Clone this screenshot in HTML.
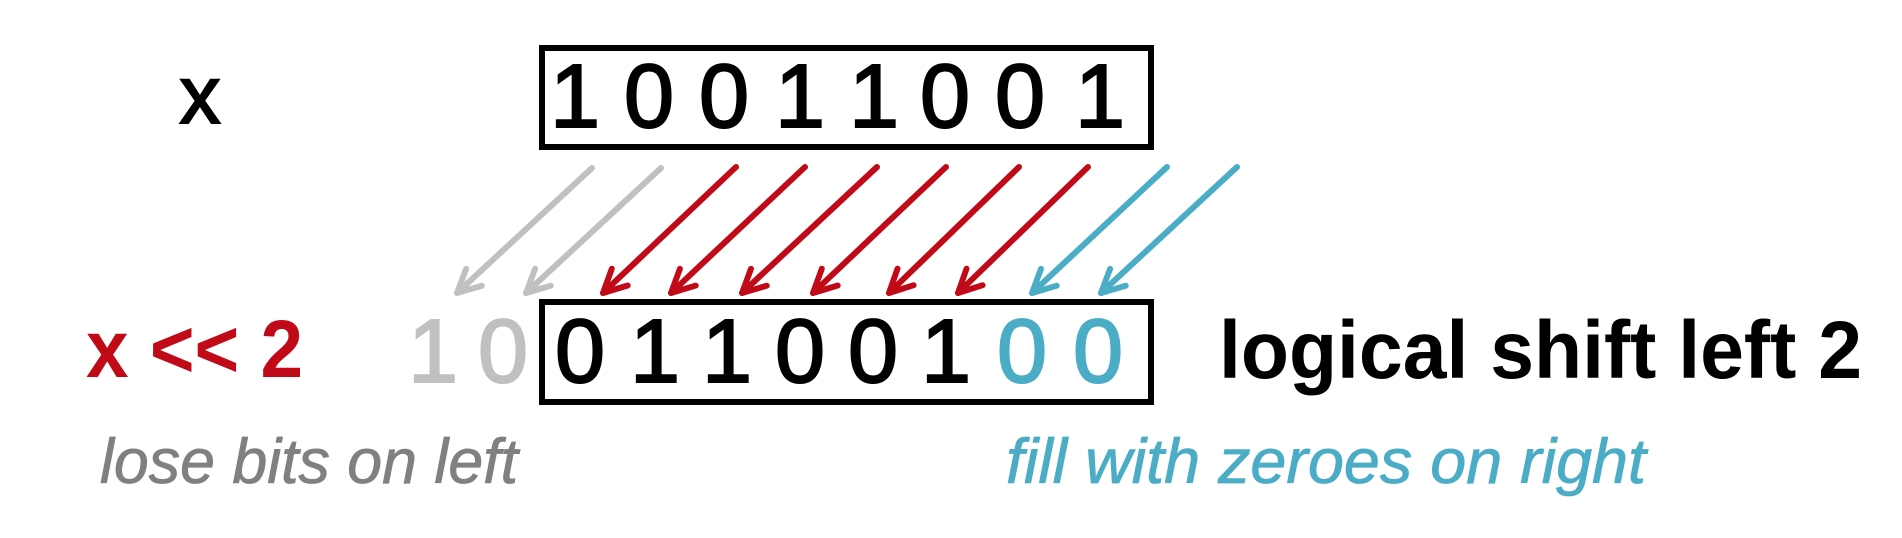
<!DOCTYPE html>
<html><head><meta charset="utf-8"><style>
html,body{margin:0;padding:0;background:#fff;}
svg{display:block;}
</style></head><body>
<svg width="1902" height="538" viewBox="0 0 1902 538" xmlns="http://www.w3.org/2000/svg" font-family="Liberation Sans, sans-serif">
<defs>
<marker id="ag" viewBox="0 0 10 10" refX="8.5" refY="5" markerWidth="5.5" markerHeight="5.5" orient="auto" markerUnits="strokeWidth"><path d="M1.5,1.5 L8.5,5 L1.5,8.5" fill="none" stroke="#C0C0C0" stroke-width="1.8" stroke-linecap="round" stroke-linejoin="round"/></marker>
<marker id="ar" viewBox="0 0 10 10" refX="8.5" refY="5" markerWidth="5.5" markerHeight="5.5" orient="auto" markerUnits="strokeWidth"><path d="M1.5,1.5 L8.5,5 L1.5,8.5" fill="none" stroke="#C00A17" stroke-width="1.8" stroke-linecap="round" stroke-linejoin="round"/></marker>
<marker id="ab" viewBox="0 0 10 10" refX="8.5" refY="5" markerWidth="5.5" markerHeight="5.5" orient="auto" markerUnits="strokeWidth"><path d="M1.5,1.5 L8.5,5 L1.5,8.5" fill="none" stroke="#4BACC6" stroke-width="1.8" stroke-linecap="round" stroke-linejoin="round"/></marker>
</defs>
<text x="200" y="123" font-size="82" text-anchor="middle" stroke="#000" stroke-width="2">x</text>
<rect x="542" y="48" width="609" height="99" fill="none" stroke="#000" stroke-width="6"/>
<g font-size="90" text-anchor="middle" fill="#000" stroke="#000" stroke-width="2">
<text x="575" y="127">1</text><text x="649" y="127">0</text><text x="724" y="127">0</text><text x="800" y="127">1</text>
<text x="874" y="127">1</text><text x="945" y="127">0</text><text x="1020" y="127">0</text><text x="1100" y="127">1</text>
</g>
<g stroke-width="6" fill="none" stroke-linecap="round">
<line x1="592" y1="168" x2="457" y2="293" stroke="#C0C0C0" marker-end="url(#ag)"/>
<line x1="661" y1="168" x2="526" y2="293" stroke="#C0C0C0" marker-end="url(#ag)"/>
<line x1="736" y1="167" x2="603" y2="293" stroke="#C00A17" marker-end="url(#ar)"/>
<line x1="805" y1="167" x2="671" y2="293" stroke="#C00A17" marker-end="url(#ar)"/>
<line x1="877" y1="167" x2="742" y2="293" stroke="#C00A17" marker-end="url(#ar)"/>
<line x1="946" y1="167" x2="813" y2="293" stroke="#C00A17" marker-end="url(#ar)"/>
<line x1="1019" y1="167" x2="889" y2="293" stroke="#C00A17" marker-end="url(#ar)"/>
<line x1="1088" y1="167" x2="958" y2="293" stroke="#C00A17" marker-end="url(#ar)"/>
<line x1="1167" y1="167" x2="1032" y2="293" stroke="#4BACC6" marker-end="url(#ab)"/>
<line x1="1237" y1="167" x2="1101" y2="293" stroke="#4BACC6" marker-end="url(#ab)"/>
</g>
<rect x="542" y="302" width="609" height="100" fill="none" stroke="#000" stroke-width="6"/>
<g font-size="90" text-anchor="middle" stroke-width="2">
<text x="433" y="382" fill="#C0C0C0" stroke="#C0C0C0">1</text><text x="503" y="382" fill="#C0C0C0" stroke="#C0C0C0">0</text>
<text x="580" y="382" stroke="#000">0</text><text x="655" y="382" stroke="#000">1</text><text x="727" y="382" stroke="#000">1</text><text x="800" y="382" stroke="#000">0</text>
<text x="873" y="382" stroke="#000">0</text><text x="946" y="382" stroke="#000">1</text>
<text x="1022" y="382" fill="#4BACC6" stroke="#4BACC6">0</text><text x="1098" y="382" fill="#4BACC6" stroke="#4BACC6">0</text>
</g>
<text x="86" y="377" font-size="82" font-weight="bold" fill="#C00A17" textLength="217" lengthAdjust="spacingAndGlyphs">x &lt;&lt; 2</text>
<text x="1219" y="378" font-size="82" font-weight="bold" fill="#000" textLength="643" lengthAdjust="spacingAndGlyphs">logical shift left 2</text>
<text x="100" y="483" font-size="63" font-style="italic" fill="#808080" stroke="#808080" stroke-width="0.8" textLength="418" lengthAdjust="spacingAndGlyphs">lose bits on left</text>
<text x="1006" y="483" font-size="63" font-style="italic" fill="#4BACC6" stroke="#4BACC6" stroke-width="0.8" textLength="640" lengthAdjust="spacingAndGlyphs">fill with zeroes on right</text>
</svg>
</body></html>
